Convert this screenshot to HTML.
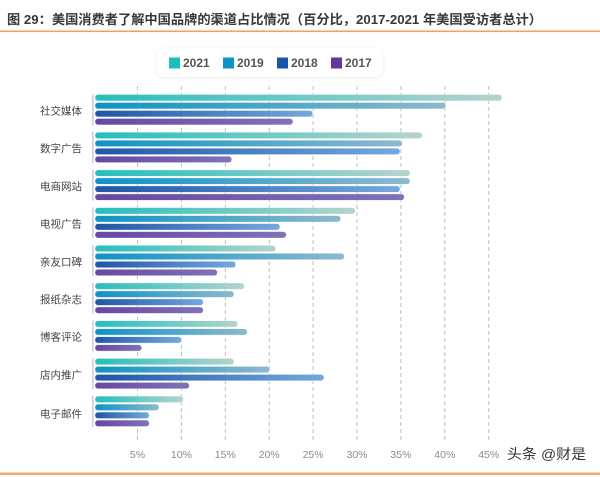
<!DOCTYPE html>
<html><head><meta charset="utf-8"><style>
html,body{margin:0;padding:0;background:#fff;}
svg{display:block;}
text{font-family:"Liberation Sans","Noto Sans CJK SC",sans-serif;}
</style></head><body>
<svg width="600" height="477" viewBox="0 0 600 477" xmlns="http://www.w3.org/2000/svg">
<defs>
<linearGradient id="g21" x1="0" x2="1" y1="0" y2="0"><stop offset="0" stop-color="#24bfbd"/><stop offset="1" stop-color="#b6d3cd"/></linearGradient>
<linearGradient id="g19" x1="0" x2="1" y1="0" y2="0"><stop offset="0" stop-color="#0e93c6"/><stop offset="1" stop-color="#8db9cc"/></linearGradient>
<linearGradient id="g18" x1="0" x2="1" y1="0" y2="0"><stop offset="0" stop-color="#1f56a6"/><stop offset="1" stop-color="#74a8de"/></linearGradient>
<linearGradient id="g17" x1="0" x2="1" y1="0" y2="0"><stop offset="0" stop-color="#6648a2"/><stop offset="1" stop-color="#8072b9"/></linearGradient>
<filter id="sh" x="-10%" y="-30%" width="120%" height="160%"><feDropShadow dx="0" dy="1" stdDeviation="2" flood-color="#000" flood-opacity="0.08"/></filter>
</defs>
<rect width="600" height="477" fill="#fff"/>
<!-- title -->
<text x="7" y="24" font-size="13" font-weight="bold" fill="#383838" textLength="535" lengthAdjust="spacingAndGlyphs">图 29：美国消费者了解中国品牌的渠道占比情况（百分比，2017-2021 年美国受访者总计）</text>
<rect x="0" y="30.5" width="600" height="1.6" fill="#f0a062"/>
<!-- legend -->
<rect x="157" y="48" width="226" height="29" rx="8" fill="#fff" filter="url(#sh)"/>
<rect x="169" y="57.5" width="11" height="11" fill="#1dbdbd"/>
<text x="183" y="67" font-size="12" font-weight="bold" fill="#555">2021</text>
<rect x="223" y="57.5" width="11" height="11" fill="#0b93c7"/>
<text x="237" y="67" font-size="12" font-weight="bold" fill="#555">2019</text>
<rect x="277" y="57.5" width="11" height="11" fill="#1a56a8"/>
<text x="291" y="67" font-size="12" font-weight="bold" fill="#555">2018</text>
<rect x="331" y="57.5" width="11" height="11" fill="#5e389f"/>
<text x="345" y="67" font-size="12" font-weight="bold" fill="#555">2017</text>
<!-- gridlines -->
<g stroke="#bfbfbf" stroke-width="1" stroke-dasharray="4 3">
<line x1="137.5" y1="86" x2="137.5" y2="441"/>
<line x1="181.4" y1="86" x2="181.4" y2="441"/>
<line x1="225.3" y1="86" x2="225.3" y2="441"/>
<line x1="269.2" y1="86" x2="269.2" y2="441"/>
<line x1="313.1" y1="86" x2="313.1" y2="441"/>
<line x1="357" y1="86" x2="357" y2="441"/>
<line x1="400.9" y1="86" x2="400.9" y2="441"/>
<line x1="444.8" y1="86" x2="444.8" y2="441"/>
<line x1="488.7" y1="86" x2="488.7" y2="441"/>
</g>
<!-- group brackets -->
<g stroke="#cdc8e4" stroke-width="1.5">
<line x1="92.8" y1="94.3" x2="92.8" y2="125.2"/>
<line x1="92.8" y1="132" x2="92.8" y2="162.9"/>
<line x1="92.8" y1="169.7" x2="92.8" y2="200.6"/>
<line x1="92.8" y1="207.4" x2="92.8" y2="238.3"/>
<line x1="92.8" y1="245.1" x2="92.8" y2="276"/>
<line x1="92.8" y1="282.8" x2="92.8" y2="313.7"/>
<line x1="92.8" y1="320.5" x2="92.8" y2="351.4"/>
<line x1="92.8" y1="358.2" x2="92.8" y2="389.1"/>
<line x1="92.8" y1="395.9" x2="92.8" y2="426.8"/>
</g>
<g stroke="#fff" stroke-opacity="0.6" stroke-width="0.6">
<!-- G1 y0=94.5 -->
<rect x="95" y="94.5" width="407" height="6.4" rx="3" fill="url(#g21)"/>
<rect x="95" y="102.5" width="350.7" height="6.4" rx="3" fill="url(#g19)"/>
<rect x="95" y="110.5" width="217.7" height="6.4" rx="3" fill="url(#g18)"/>
<rect x="95" y="118.5" width="198" height="6.4" rx="3" fill="url(#g17)"/>
<!-- G2 y0=132.2 -->
<rect x="95" y="132.2" width="327.3" height="6.4" rx="3" fill="url(#g21)"/>
<rect x="95" y="140.2" width="307.3" height="6.4" rx="3" fill="url(#g19)"/>
<rect x="95" y="148.2" width="305" height="6.4" rx="3" fill="url(#g18)"/>
<rect x="95" y="156.2" width="136.7" height="6.4" rx="3" fill="url(#g17)"/>
<!-- G3 y0=169.9 -->
<rect x="95" y="169.9" width="315" height="6.4" rx="3" fill="url(#g21)"/>
<rect x="95" y="177.9" width="315" height="6.4" rx="3" fill="url(#g19)"/>
<rect x="95" y="185.9" width="305" height="6.4" rx="3" fill="url(#g18)"/>
<rect x="95" y="193.9" width="309.3" height="6.4" rx="3" fill="url(#g17)"/>
<!-- G4 y0=207.6 -->
<rect x="95" y="207.6" width="260.3" height="6.4" rx="3" fill="url(#g21)"/>
<rect x="95" y="215.6" width="245.7" height="6.4" rx="3" fill="url(#g19)"/>
<rect x="95" y="223.6" width="185" height="6.4" rx="3" fill="url(#g18)"/>
<rect x="95" y="231.6" width="191.3" height="6.4" rx="3" fill="url(#g17)"/>
<!-- G5 y0=245.3 -->
<rect x="95" y="245.3" width="180.7" height="6.4" rx="3" fill="url(#g21)"/>
<rect x="95" y="253.3" width="249.3" height="6.4" rx="3" fill="url(#g19)"/>
<rect x="95" y="261.3" width="140.7" height="6.4" rx="3" fill="url(#g18)"/>
<rect x="95" y="269.3" width="122.3" height="6.4" rx="3" fill="url(#g17)"/>
<!-- G6 y0=283 -->
<rect x="95" y="283" width="149.3" height="6.4" rx="3" fill="url(#g21)"/>
<rect x="95" y="291" width="139" height="6.4" rx="3" fill="url(#g19)"/>
<rect x="95" y="299" width="108.3" height="6.4" rx="3" fill="url(#g18)"/>
<rect x="95" y="307" width="108.3" height="6.4" rx="3" fill="url(#g17)"/>
<!-- G7 y0=320.7 -->
<rect x="95" y="320.7" width="142.7" height="6.4" rx="3" fill="url(#g21)"/>
<rect x="95" y="328.7" width="152.3" height="6.4" rx="3" fill="url(#g19)"/>
<rect x="95" y="336.7" width="86.3" height="6.4" rx="3" fill="url(#g18)"/>
<rect x="95" y="344.7" width="46.7" height="6.4" rx="3" fill="url(#g17)"/>
<!-- G8 y0=358.4 -->
<rect x="95" y="358.4" width="139" height="6.4" rx="3" fill="url(#g21)"/>
<rect x="95" y="366.4" width="174.7" height="6.4" rx="3" fill="url(#g19)"/>
<rect x="95" y="374.4" width="229" height="6.4" rx="3" fill="url(#g18)"/>
<rect x="95" y="382.4" width="94.3" height="6.4" rx="3" fill="url(#g17)"/>
<!-- G9 y0=396.1 -->
<rect x="95" y="396.1" width="88.3" height="6.4" rx="3" fill="url(#g21)"/>
<rect x="95" y="404.1" width="64" height="6.4" rx="3" fill="url(#g19)"/>
<rect x="95" y="412.1" width="54.3" height="6.4" rx="3" fill="url(#g18)"/>
<rect x="95" y="420.1" width="54.3" height="6.4" rx="3" fill="url(#g17)"/>
</g>
<!-- category labels -->
<g font-size="10.5" fill="#444" text-anchor="end">
<text x="82" y="114.5">社交媒体</text>
<text x="82" y="152.2">数字广告</text>
<text x="82" y="189.9">电商网站</text>
<text x="82" y="227.6">电视广告</text>
<text x="82" y="265.3">亲友口碑</text>
<text x="82" y="303">报纸杂志</text>
<text x="82" y="340.7">博客评论</text>
<text x="82" y="378.4">店内推广</text>
<text x="82" y="417.5">电子邮件</text>
</g>
<!-- x labels -->
<g font-size="10.5" fill="#8a8a8a" text-anchor="middle">
<text x="137.5" y="458">5%</text>
<text x="181.4" y="458">10%</text>
<text x="225.3" y="458">15%</text>
<text x="269.2" y="458">20%</text>
<text x="313.1" y="458">25%</text>
<text x="357" y="458">30%</text>
<text x="400.9" y="458">35%</text>
<text x="444.8" y="458">40%</text>
<text x="488.7" y="458">45%</text>
</g>
<text x="507" y="459" font-size="14" fill="#333" textLength="79" lengthAdjust="spacingAndGlyphs">头条 @财是</text>
<rect x="0" y="472.5" width="600" height="2.5" fill="#f6a86a"/>
</svg>
</body></html>
